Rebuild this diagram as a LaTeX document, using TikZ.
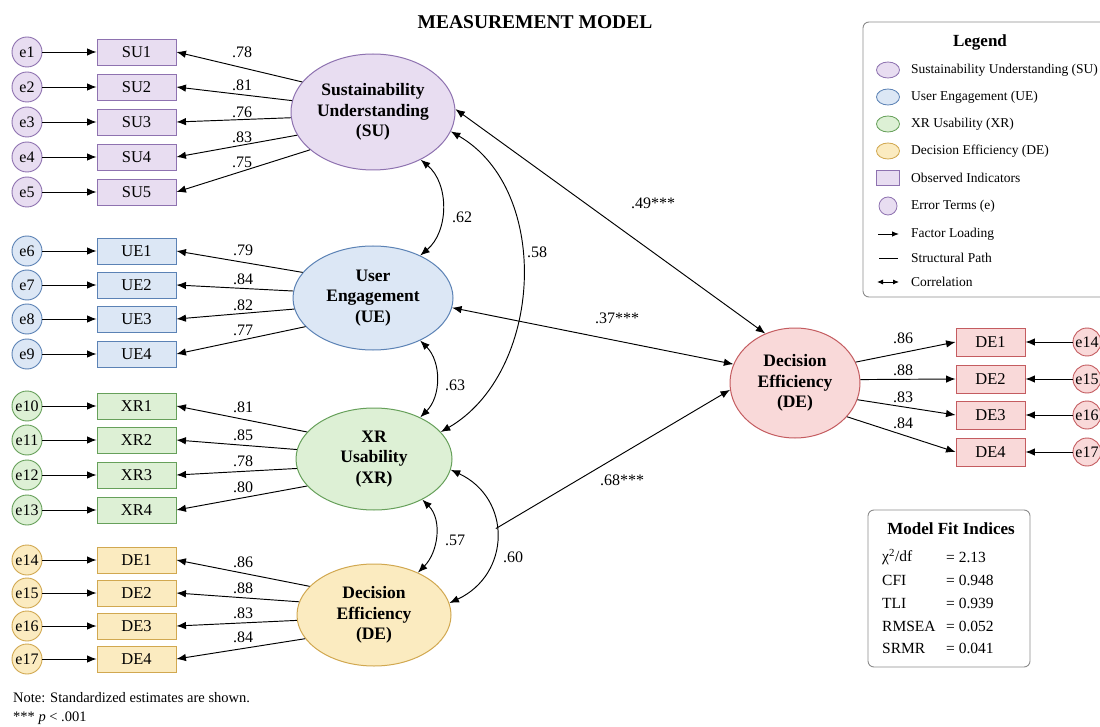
\documentclass[tikz,border=0pt]{standalone}
\usepackage{fontspec}
\setmainfont{Liberation Serif}
\usetikzlibrary{arrows.meta,shapes.geometric}
\definecolor{SUf}{HTML}{E8DDF1}\definecolor{SUd}{HTML}{8E72B0}
\definecolor{UEf}{HTML}{DCE7F5}\definecolor{UEd}{HTML}{5B82B5}
\definecolor{XRf}{HTML}{DDF0D5}\definecolor{XRd}{HTML}{66A05A}
\definecolor{DEf}{HTML}{FBEBC0}\definecolor{DEd}{HTML}{D1A850}
\definecolor{DRf}{HTML}{F9D9D9}\definecolor{DRd}{HTML}{C45C60}
\definecolor{boxgray}{HTML}{8C8C8C}
\begin{document}
\begin{tikzpicture}[x=1pt,y=1pt,
  ar/.style={-{Latex[length=9.5pt,width=7.5pt]}, line width=0.95pt},
  dar/.style={{Latex[length=9.5pt,width=7.5pt]}-{Latex[length=9.5pt,width=7.5pt]}, line width=0.95pt},
  lat/.style={ellipse, line width=1pt, inner sep=0pt, align=center, font=\fontsize{17.5}{20.5}\selectfont\bfseries},
  obs/.style={rectangle, line width=0.9pt, minimum width=79pt, minimum height=26pt, inner sep=0pt, font=\fontsize{16.5}{18}\selectfont},
  err/.style={circle, line width=0.9pt, minimum size=30pt, inner sep=0pt, font=\fontsize{16}{18}\selectfont},
  lab/.style={font=\fontsize{16}{18}\selectfont, inner sep=1pt},
  su/.style={draw=SUd, fill=SUf},
  ue/.style={draw=UEd, fill=UEf},
  xr/.style={draw=XRd, fill=XRf},
  de/.style={draw=DEd, fill=DEf},
  dr/.style={draw=DRd, fill=DRf},
  panel/.style={draw=boxgray, line width=0.9pt, rounded corners=6pt, fill=white},
  legtxt/.style={anchor=west, inner sep=0pt, font=\fontsize{13.5}{16}\selectfont},
  legell/.style={ellipse, minimum width=23pt, minimum height=16pt, inner sep=0pt, line width=0.8pt},
  fittxt/.style={anchor=west, inner sep=0pt, font=\fontsize{15.5}{18}\selectfont}
]
\fill[white] (0,0) rectangle (1100,-727);
\useasboundingbox (0,0) rectangle (1100,-727);

% title
\node[font=\fontsize{19.5}{23}\selectfont\bfseries] (title) at (535,-22) {MEASUREMENT MODEL};

% latent variables
\node[lat, su, minimum width=164pt, minimum height=116pt] (SU) at (373,-112) {Sustainability\\Understanding\\(SU)};
\node[lat, ue, minimum width=160pt, minimum height=104pt] (UE) at (373,-298) {User\\Engagement\\(UE)};
\node[lat, xr, minimum width=156pt, minimum height=102pt] (XR) at (374,-459) {XR\\Usability\\(XR)};
\node[lat, de, minimum width=154pt, minimum height=102pt] (DEL) at (374,-615) {Decision\\Efficiency\\(DE)};
\node[lat, dr, minimum width=130pt, minimum height=110pt] (DER) at (795,-383) {Decision\\Efficiency\\(DE)};

% SU indicators
\foreach \i/\y/\a/\v/\ly in {1/52/157/.78/52, 2/87/172/.81/85, 3/122/184/.76/112, 4/157/197/.83/137, 5/192/211/.75/162}{
  \node[obs, su] (SU\i) at (136.5,-\y) {SU\i};
  \node[err, su] (e\i) at (27,-\y) {e\i};
  \draw[ar] (e\i) -- (SU\i);
  \draw[ar] (SU.\a) -- (SU\i.east);
  \node[lab] (lSU\i) at (242,-\ly) {\v};
}
% UE indicators
\foreach \i/\e/\y/\a/\v/\ly in {1/6/251/160/.79/250, 2/7/285/175/.84/279, 3/8/319/188/.82/305, 4/9/354/203/.77/330}{
  \node[obs, ue] (UE\i) at (136.5,-\y) {UE\i};
  \node[err, ue] (e\e) at (27,-\y) {e\e};
  \draw[ar] (e\e) -- (UE\i);
  \draw[ar] (UE.\a) -- (UE\i.east);
  \node[lab] (lUE\i) at (243,-\ly) {\v};
}
% XR indicators
\foreach \i/\e/\y/\a/\v/\ly in {1/10/406/158/.81/407, 2/11/440/173/.85/435, 3/12/475/187/.78/461, 4/13/510/202/.80/487}{
  \node[obs, xr] (XR\i) at (136.5,-\y) {XR\i};
  \node[err, xr] (e\e) at (27,-\y) {e\e};
  \draw[ar] (e\e) -- (XR\i);
  \draw[ar] (XR.\a) -- (XR\i.east);
  \node[lab] (lXR\i) at (243,-\ly) {\v};
}
% DE (left) indicators
\foreach \i/\e/\y/\a/\v/\ly in {1/14/560/156/.86/562, 2/15/593/170/.88/588, 3/16/626/184/.83/613, 4/17/659/199/.84/637}{
  \node[obs, de] (DEL\i) at (136.5,-\y) {DE\i};
  \node[err, de] (e\e) at (27,-\y) {e\e};
  \draw[ar] (e\e) -- (DEL\i);
  \draw[ar] (DEL.\a) -- (DEL\i.east);
  \node[lab] (lDEL\i) at (243,-\ly) {\v};
}
% DE (right) indicators
\foreach \i/\e/\y/\a/\v/\ly in {1/14/342/19/.86/338, 2/15/379/3/.88/370, 3/16/415/-15/.83/397, 4/17/452/-33/.84/423}{
  \node[obs, dr, minimum width=69pt, minimum height=28pt] (DER\i) at (990.5,-\y) {DE\i};
  \node[err, dr, minimum size=28pt] (r\e) at (1087,-\y) {e\e};
  \draw[ar] (r\e) -- (DER\i);
  \draw[ar] (DER.\a) -- (DER\i.west);
  \node[lab] (lDER\i) at (903,-\ly) {\v};
}

% correlations among latent variables
\draw[dar] (SU.-45) to[out=-40, in=40] (UE.42);
\node[lab] (c62) at (462,-217) {.62};
\draw[dar] (UE.-42) to[out=-45, in=45] (XR.42);
\node[lab] (c63) at (455,-385) {.63};
\draw[dar] (SU.-14) to[out=-30, in=30] (XR.22);
\node[lab] (c58) at (537,-252) {.58};
\draw[dar] (XR.-40) to[out=-45, in=45] (DEL.44);
\node[lab] (c57) at (455,-540) {.57};
\draw[dar] (XR.-8) to[out=-25, in=25, looseness=1.3] coordinate[pos=0.45] (m60) (DEL.9);
\node[lab] (c60) at (513,-557) {.60};

% structural paths
\draw[dar] (SU.2) -- (DER.121);
\node[lab] (s49) at (653,-203) {.49***};
\draw[dar] (UE.-7) -- (DER.163);
\node[lab] (s37) at (617,-318) {.37***};
\draw[ar] (m60) -- (DER.186);
\node[lab] (s68) at (622,-480) {.68***};

% legend
\draw[panel] (863,-22) rectangle (1112,-297);
\node[font=\fontsize{17}{19}\selectfont\bfseries] (legT) at (980,-42) {Legend};
\node[legell, su] (lg1) at (888,-70) {};
\node[legtxt] (lt1) at (911,-70) {Sustainability Understanding (SU)};
\node[legell, ue] (lg2) at (888,-97) {};
\node[legtxt] (lt2) at (911,-97) {User Engagement (UE)};
\node[legell, xr] (lg3) at (888,-124) {};
\node[legtxt] (lt3) at (911,-124) {XR Usability (XR)};
\node[legell, de] (lg4) at (888,-151) {};
\node[legtxt] (lt4) at (911,-151) {Decision Efficiency (DE)};
\node[rectangle, su, minimum width=23pt, minimum height=15pt, inner sep=0pt, line width=0.8pt] (lg5) at (888,-178) {};
\node[legtxt] (lt5) at (911,-178) {Observed Indicators};
\node[circle, su, minimum size=18pt, inner sep=0pt, line width=0.8pt] (lg6) at (888,-206) {};
\node[legtxt] (lt6) at (911,-206) {Error Terms (e)};
\coordinate (lfa) at (878,-234); \coordinate (lfb) at (899,-234);
\draw[-{Latex[length=7pt,width=5.5pt]}, line width=0.9pt] (lfa) -- (lfb);
\node[legtxt] (lt7) at (911,-234) {Factor Loading};
\coordinate (lsa) at (879,-258); \coordinate (lsb) at (898,-258);
\draw[line width=0.9pt] (lsa) -- (lsb);
\node[legtxt] (lt8) at (911,-258) {Structural Path};
\coordinate (lca) at (877,-282); \coordinate (lcb) at (899,-282);
\draw[{Latex[length=6pt,width=5pt]}-{Latex[length=6pt,width=5pt]}, line width=0.9pt] (lca) -- (lcb);
\node[legtxt] (lt9) at (911,-282) {Correlation};

% model fit
\draw[panel] (868,-510) rectangle (1030,-667);
\node[font=\fontsize{17}{19}\selectfont\bfseries] (fitT) at (951,-529) {Model Fit Indices};
\node[fittxt] (fk1) at (882,-557) {χ\textsuperscript{2}/df};
\node[fittxt] (fv1) at (946,-557) {= 2.13};
\node[fittxt] (fk2) at (882,-580) {CFI};
\node[fittxt] (fv2) at (946,-580) {= 0.948};
\node[fittxt] (fk3) at (882,-603) {TLI};
\node[fittxt] (fv3) at (946,-603) {= 0.939};
\node[fittxt] (fk4) at (882,-626) {RMSEA};
\node[fittxt] (fv4) at (946,-626) {= 0.052};
\node[fittxt] (fk5) at (882,-648) {SRMR};
\node[fittxt] (fv5) at (946,-648) {= 0.041};

% note
\node[anchor=west, inner sep=0pt, font=\fontsize{14.5}{17}\selectfont] (note1) at (13,-698) {Note: Standardized estimates are shown.};
\node[anchor=west, inner sep=0pt, font=\fontsize{14.5}{17}\selectfont] (note2) at (13,-718) {*** \textit{p} < .001};
\end{tikzpicture}
\end{document}
